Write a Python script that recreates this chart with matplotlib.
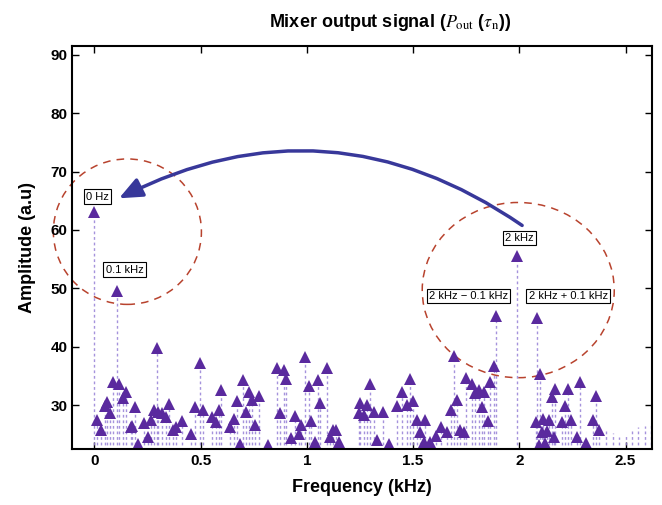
import matplotlib
matplotlib.use("Agg")
import matplotlib.pyplot as plt
from matplotlib.patches import Ellipse, FancyArrowPatch

plt.rcParams['mathtext.fontset'] = 'stix'

# spectrum lines (kHz, a.u.)
freq = [0.000, 0.014, 0.030, 0.048, 0.058, 0.074, 0.088, 0.105, 0.116, 0.132,
        0.147, 0.171, 0.179, 0.190, 0.207, 0.234, 0.251, 0.265, 0.278, 0.293,
        0.301, 0.320, 0.336, 0.351, 0.372, 0.383, 0.411, 0.453, 0.474, 0.497,
        0.511, 0.555, 0.571, 0.585, 0.597, 0.640, 0.656, 0.671, 0.687, 0.701,
        0.715, 0.726, 0.742, 0.758, 0.773, 0.817, 0.860, 0.875, 0.891, 0.904,
        0.927, 0.946, 0.962, 0.974, 0.993, 1.009, 1.021, 1.037, 1.053, 1.064,
        1.095, 1.111, 1.122, 1.137, 1.150, 1.244, 1.252, 1.267, 1.283, 1.299,
        1.314, 1.330, 1.359, 1.385, 1.424, 1.448, 1.471, 1.487, 1.500, 1.518,
        1.531, 1.550, 1.558, 1.581, 1.609, 1.633, 1.660, 1.679, 1.691, 1.707,
        1.722, 1.738, 1.751, 1.777, 1.793, 1.809, 1.824, 1.835, 1.851, 1.864,
        1.879, 1.892, 1.990, 2.079, 2.085, 2.091, 2.099, 2.107, 2.110, 2.122,
        2.130, 2.138, 2.154, 2.161, 2.166, 2.201, 2.216, 2.229, 2.245, 2.271,
        2.287, 2.315, 2.345, 2.361, 2.376]
amp = [63.1, 27.4, 25.7, 29.9, 30.5, 28.6, 34.0, 49.6, 33.6, 31.3,
       32.3, 26.3, 26.4, 29.7, 23.4, 27.0, 24.6, 27.4, 29.1, 39.8,
       28.9, 28.7, 28.0, 30.2, 25.8, 26.3, 27.3, 25.1, 29.7, 37.3,
       29.1, 27.9, 27.1, 29.1, 32.6, 26.3, 27.7, 30.7, 23.4, 34.3,
       28.9, 32.3, 30.9, 26.6, 31.5, 23.1, 36.3, 28.6, 36.1, 34.4,
       24.3, 28.1, 25.1, 26.6, 38.3, 33.3, 27.3, 23.7, 34.3, 30.3,
       36.3, 24.6, 25.8, 25.7, 23.7, 28.6, 30.3, 28.3, 30.0, 33.7,
       28.9, 24.0, 28.9, 23.4, 29.8, 32.3, 30.0, 34.4, 30.7, 27.5,
       25.4, 23.7, 27.5, 23.7, 24.7, 26.3, 25.4, 29.1, 38.4, 30.9,
       25.7, 25.4, 34.6, 33.7, 32.1, 32.6, 29.7, 32.3, 27.3, 34.0,
       36.7, 45.3, 55.6, 27.1, 44.9, 23.1, 35.4, 25.4, 27.7, 23.5,
       25.6, 27.5, 31.4, 24.5, 32.7, 27.1, 29.8, 32.7, 27.4, 24.5,
       34.0, 23.5, 27.4, 31.5, 25.8]

# weak tail lines with no visible marker
tail_freq = [2.41, 2.44, 2.47, 2.50, 2.53, 2.56, 2.59, 2.62]
tail_amp = [26.0, 25.2, 24.6, 25.0, 25.6, 26.2, 26.4, 26.8]

labels = ["0 Hz", "0.1 kHz", "2 kHz", "2 kHz \u2212 0.1 kHz", "2 kHz + 0.1 kHz"]
label_x = [0.014, 0.141, 2.000, 1.760, 2.230]
label_y = [65.7, 53.2, 58.6, 48.7, 48.7]

stem_col = "#9680d6"
mark_col = "#5a2a9e"
font = "Liberation Sans"

fig = plt.figure(figsize=(6.62, 5.05), dpi=100)
ax = fig.add_axes([0.109, 0.111, 0.876, 0.798])

ml, sl, bl = ax.stem(freq, amp, basefmt=" ")
plt.setp(sl, color=stem_col, linestyle=(0, (2, 2)), linewidth=1.0, alpha=0.85)
plt.setp(ml, marker="^", color=mark_col, markersize=8.5, markeredgewidth=0)

ml2, sl2, bl2 = ax.stem(tail_freq, tail_amp, basefmt=" ")
plt.setp(sl2, color=stem_col, linestyle=(0, (2, 2)), linewidth=1.0, alpha=0.85)
plt.setp(ml2, marker="None")

ax.set_xlim(-0.105, 2.625)
ax.set_ylim(22.5, 91.5)
ax.set_xticks([0, 0.5, 1, 1.5, 2, 2.5])
ax.set_xticklabels(["0", "0.5", "1", "1.5", "2", "2.5"])
ax.set_yticks([30, 40, 50, 60, 70, 80, 90])
ax.tick_params(direction="in", top=True, right=True, length=5, width=1,
               labelsize=11)
for t in ax.get_xticklabels() + ax.get_yticklabels():
    t.set_fontweight("bold")
    t.set_family(font)
for s in ax.spines.values():
    s.set_linewidth(1.5)

ax.set_xlabel("Frequency (kHz)", fontsize=13, fontweight="bold",
              family=font, labelpad=8)
ax.set_ylabel("Amplitude (a.u)", fontsize=13, fontweight="bold",
              family=font, labelpad=10)
fig.text(0.59, 0.955, r"Mixer output signal ($P_{\rm out}$ ($\tau_{\rm n}$))",
         ha="center", va="center", fontsize=13, fontweight="bold", family=font)

for txt, x, y in zip(labels, label_x, label_y):
    ax.text(x, y, txt, ha="center", va="center", fontsize=8, family=font,
            bbox=dict(boxstyle="square,pad=0.2", fc="white", ec="black", lw=0.8))

# dashed circles around the two peak groups
ax.add_patch(Ellipse((0.155, 59.7), 0.697, 24.9, fill=False, ec="#b8432e",
                     ls=(0, (5, 4)), lw=1.1, clip_on=False))
ax.add_patch(Ellipse((1.995, 49.7), 0.904, 30.0, fill=False, ec="#b8432e",
                     ls=(0, (5, 4)), lw=1.1, clip_on=False))

ax.add_patch(FancyArrowPatch((2.024, 60.5), (0.104, 65.2),
                             connectionstyle="arc3,rad=0.3",
                             arrowstyle="-|>,head_length=14,head_width=6",
                             color="#38389a", lw=2.5))

fig.savefig("out.png", dpi=100)
